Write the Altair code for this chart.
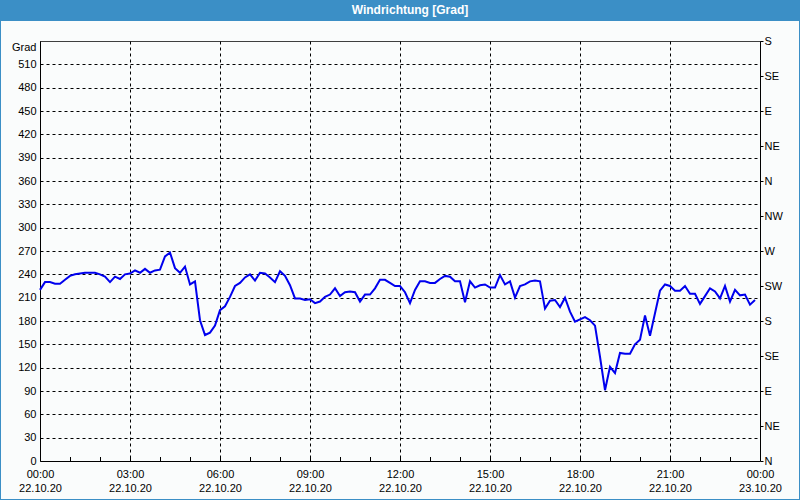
import json
import altair as alt
import pandas as pd

# Wind direction in degrees, one reading every 10 minutes from 22.10.20 00:00
degrees = [220, 230, 230, 228, 228, 233, 238, 240, 241, 242,
           242, 242, 240, 237, 230, 237, 234, 240, 241, 245,
           242, 247, 242, 245, 246, 263, 268, 248, 242, 250,
           227, 231, 181, 162, 165, 174, 194, 199, 211, 225,
           229, 236, 240, 232, 242, 241, 236, 230, 244, 238,
           226, 209, 209, 207, 208, 203, 205, 211, 214, 222,
           212, 217, 218, 217, 205, 214, 214, 222, 233, 233,
           229, 225, 225, 217, 203, 220, 231, 231, 229, 229,
           234, 238, 237, 231, 231, 204, 231, 223, 226, 227,
           223, 223, 239, 227, 231, 210, 225, 227, 231, 232,
           231, 196, 206, 207, 198, 210, 192, 179, 182, 185,
           181, 174, 134, 91, 121, 113, 139, 138, 138, 150,
           156, 187, 161, 190, 219, 227, 225, 219, 219, 225,
           215, 215, 202, 212, 222, 218, 209, 225, 205, 220,
           213, 214, 201, 207]
step_minutes = 10
hours = [i * step_minutes / 60 for i in range(len(degrees))]

x_tick_hours = [0, 3, 6, 9, 12, 15, 18, 21, 24]
x_tick_times = ["00:00", "03:00", "06:00", "09:00", "12:00", "15:00", "18:00", "21:00", "00:00"]
x_tick_dates = ["22.10.20"] * 8 + ["23.10.20"]
minor_hours = list(range(0, 25))

y_ticks = list(range(0, 541, 30))
compass_values = list(range(0, 541, 45))
compass_labels = ["N", "NE", "E", "SE", "S", "SW", "W", "NW", "N", "NE", "E", "SE", "S"]

title_text = "Windrichtung [Grad]"
unit_label = "Grad"

FONT = "Liberation Sans"
BAND = "#3b8fc6"
LINE = "#0000ee"
W, H = 720, 420
PL, PT, PR, PB = 40, 41, 40, 39

df = pd.DataFrame({"h": hours, "deg": degrees})
minor_df = pd.DataFrame({"h": minor_hours})
one = pd.DataFrame({"k": [0]})

x_scale = alt.Scale(domain=[0, 24], nice=False, zero=False)
y_scale = alt.Scale(domain=[0, 540], nice=False)

x_label_expr = (f"[{json.dumps(x_tick_times)}[round(datum.value/3)], "
                f"{json.dumps(x_tick_dates)}[round(datum.value/3)]]")
compass_expr = f"{json.dumps(compass_labels)}[round(datum.value/45)]"

common_lbl = dict(labelFont=FONT, labelFontSize=11, labelColor="black",
                  domainColor="black", title=None, labelOverlap=False)

x_axis = alt.Axis(values=x_tick_hours, labelExpr=x_label_expr,
                  grid=True, gridColor="black", gridDash=[3, 3],
                  ticks=False, labelFlush=False, labelPadding=7,
                  labelLineHeight=14, **common_lbl)

line = alt.Chart(df).mark_line(color=LINE, strokeWidth=2).encode(
    x=alt.X("h:Q", scale=x_scale, axis=x_axis),
    y=alt.Y("deg:Q", scale=y_scale,
            axis=alt.Axis(values=y_ticks,
                          labelExpr=f"datum.value == 540 ? '{unit_label}' : datum.label",
                          labelBaseline={"condition": {"test": "datum.value == 540", "value": "top"},
                                         "value": "middle"},
                          grid=True, gridColor="black",
                          gridDash={"condition": {"test": "datum.value == 540", "value": [1, 0]},
                                    "value": [3, 3]},
                          ticks=False, labelPadding=4, **common_lbl)),
)

right = alt.Chart(df).mark_line(strokeOpacity=0).encode(
    x=alt.X("h:Q", scale=x_scale, axis=x_axis),
    y=alt.Y("deg:Q", scale=y_scale,
            axis=alt.Axis(orient="right", values=compass_values, labelExpr=compass_expr,
                          grid=False, ticks=True, tickSize=3, tickColor="black",
                          labelPadding=1, labelAlign="left", **common_lbl)),
)

minor = alt.Chart(minor_df).mark_rule(color="black", strokeWidth=1, xOffset=0.5).encode(
    x=alt.X("h:Q", scale=x_scale, axis=x_axis),
    y=alt.value(H), y2=alt.value(H - 4),
)

band = alt.Chart(one).mark_rect(color=BAND).encode(
    x=alt.value(-PL), x2=alt.value(W + PR), y=alt.value(-PT), y2=alt.value(-PT + 21))
title = alt.Chart(one).mark_text(text=title_text, font=FONT, fontSize=12, fontWeight="bold",
                                 color="white", align="center", baseline="middle").encode(
    x=alt.value(370), y=alt.value(-PT + 10))
b_left = alt.Chart(one).mark_rule(color=BAND, strokeWidth=2).encode(
    x=alt.value(-PL), y=alt.value(-PT), y2=alt.value(H + PB))
b_right = alt.Chart(one).mark_rule(color=BAND, strokeWidth=2).encode(
    x=alt.value(W + PR), y=alt.value(-PT), y2=alt.value(H + PB))
b_bottom = alt.Chart(one).mark_rule(color=BAND, strokeWidth=2).encode(
    x=alt.value(-PL), x2=alt.value(W + PR), y=alt.value(H + PB))

chart = alt.layer(line, right, minor, band, b_left, b_right, b_bottom, title).resolve_axis(
    y="independent"
).properties(
    width=W, height=H,
    autosize=alt.AutoSizeParams(type="none"),
    padding={"left": PL, "top": PT, "right": PR, "bottom": PB},
    background="#fafcfc",
).configure_view(stroke=None)

chart.save("out.html", embed_options={"renderer": "svg", "actions": False})
